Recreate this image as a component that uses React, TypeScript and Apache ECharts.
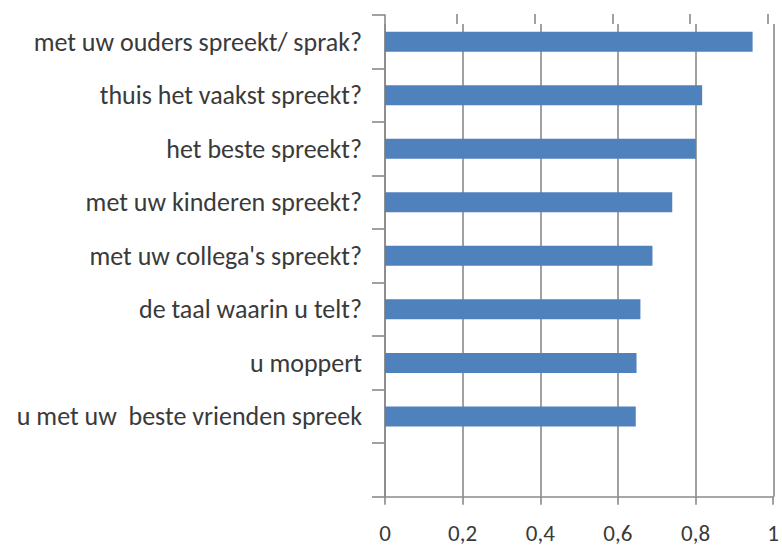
import React, { useEffect, useRef } from "react";
import * as echarts from "echarts";

const categories = [
  "met uw ouders spreekt/ sprak?",
  "thuis het vaakst spreekt?",
  "het beste spreekt?",
  "met uw kinderen spreekt?",
  "met uw collega's spreekt?",
  "de taal waarin u telt?",
  "u moppert",
  "u met uw  beste vrienden spreek",
  "",
];
const values: (number | null)[] = [0.947, 0.817, 0.801, 0.74, 0.689, 0.658, 0.648, 0.646, null];
const xTicks = [0, 0.2, 0.4, 0.6, 0.8, 1];

const LINE = "#8a8a8a";
const FONT = "Carlito, Calibri, Lato, sans-serif";

export default function App() {
  const ref = useRef<HTMLDivElement>(null);
  useEffect(() => {
    if (!ref.current) return;
    const chart = echarts.init(ref.current, null, { renderer: "svg" });
    const left = 385;
    const width = 388.3;
    const top = 15;
    const bottom = 547 - 496.7;
    const step = width * (xTicks[1] - xTicks[0]);
    chart.setOption({
      animation: false,
      backgroundColor: "#ffffff",
      grid: [
        { left, width, top, bottom, containLabel: false },
        { left, width, top: 24, bottom, containLabel: false },
        { left: left - 5.5 + step, width: width - step, top: 14, height: 10, containLabel: false },
      ],
      xAxis: [
        {
          gridIndex: 0,
          type: "value",
          min: xTicks[0],
          max: xTicks[xTicks.length - 1],
          interval: 0.2,
          axisLine: { show: true, lineStyle: { color: LINE, width: 1.6 } },
          axisTick: { show: true, length: 8, lineStyle: { color: LINE, width: 1.6 } },
          splitLine: { show: false },
          axisLabel: {
            margin: 25,
            fontSize: 23,
            lineHeight: 23,
            fontFamily: FONT,
            color: "#3a3a3a",
            formatter: (v: number) => String(Math.round(v * 10) / 10).replace(".", ","),
          },
        },
        {
          gridIndex: 1,
          type: "value",
          min: xTicks[0],
          max: xTicks[xTicks.length - 1],
          interval: 0.2,
          axisLine: { show: false },
          axisTick: { show: false },
          axisLabel: { show: false },
          splitLine: { show: true, lineStyle: { color: LINE, width: 1.6 } },
        },
        {
          gridIndex: 2,
          type: "value",
          position: "bottom",
          min: 0.2,
          max: 1,
          interval: 0.2,
          axisLine: { show: false },
          axisTick: { show: true, inside: true, length: 10, lineStyle: { color: LINE, width: 1.6 } },
          axisLabel: { show: false },
          splitLine: { show: false },
        },
      ],
      yAxis: [
        {
          gridIndex: 0,
          type: "category",
          data: categories,
          inverse: true,
          axisLine: { show: true, lineStyle: { color: LINE, width: 1.6 } },
          axisTick: { show: true, length: 13, lineStyle: { color: LINE, width: 1.6 } },
          axisLabel: {
            margin: 23,
            fontSize: 26,
            fontFamily: FONT,
            color: "#3a3a3a",
            padding: [6, 0, 0, 0],
          },
          splitLine: { show: false },
        },
        { gridIndex: 1, type: "value", show: false },
        { gridIndex: 2, type: "value", show: false },
      ],
      series: [
        {
          type: "bar",
          xAxisIndex: 0,
          yAxisIndex: 0,
          data: values,
          barWidth: 20,
          itemStyle: { color: "#4F81BD" },
          z: 3,
        },
      ],
    });
    return () => chart.dispose();
  }, []);
  return (
    <div
      ref={ref}
      style={{ position: "absolute", left: 0, top: 0, width: 782, height: 547 }}
    />
  );
}
